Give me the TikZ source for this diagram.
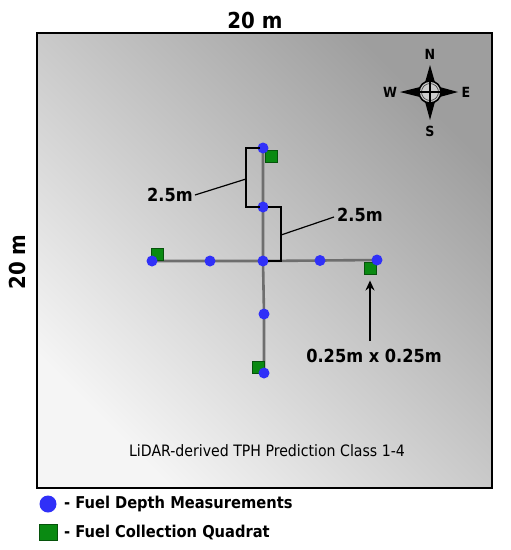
\documentclass[tikz,border=0pt]{standalone}
\usepackage{fontspec}
\setmainfont{DejaVu Sans}
\newfontfamily\condfont{DejaVu Sans Condensed}
\usetikzlibrary{arrows.meta,calc}
\definecolor{dotblue}{HTML}{3030F8}
\definecolor{quadgreen}{HTML}{0A8A12}
\definecolor{trailgray}{HTML}{6E6E6E}
\tikzset{
  dot/.style={circle, fill=dotblue, inner sep=0pt, minimum size=11pt},
  quad/.style={rectangle, fill=quadgreen, draw=quadgreen!60!black, line width=0.4pt, inner sep=0pt, minimum size=12.5pt},
  trail/.style={draw=trailgray, line width=2.6pt},
  brk/.style={draw=black, line width=1.4pt},
  lbl/.style={font=\condfont\bfseries\fontsize{18}{20}\selectfont, inner sep=0pt},
  dim/.style={font=\condfont\bfseries\fontsize{22}{24}\selectfont, inner sep=0pt},
  leg/.style={font=\condfont\bfseries\fontsize{16.3}{18}\selectfont, inner sep=0pt, anchor=west},
  cmp/.style={font=\condfont\bfseries\fontsize{14}{15}\selectfont, inner sep=0pt}
}
\begin{document}
\begin{tikzpicture}[x=1pt,y=-1pt]
\useasboundingbox (0,0) rectangle (511,550);
\fill[white] (0,0) rectangle (511,550);
% plot
\shade[top color=black!38, bottom color=black!4, shading angle=-45] (37,33) rectangle (492,488);
\draw[line width=2.6pt] (37,33) rectangle (492,488);
\node[dim] (top) at (255,20) {20 m};
\node[dim, rotate=90] (side) at (17,262) {20 m};
% positions
\coordinate (c) at (263,261);
\coordinate (n1) at (263,207);
\coordinate (n2) at (263,148);
\coordinate (w1) at (210,261);
\coordinate (w2) at (152,261);
\coordinate (e1) at (320,260.5);
\coordinate (e2) at (377,260);
\coordinate (s1) at (264,314);
\coordinate (s2) at (264,373);
% trails
\draw[trail] (n2) -- (n1) -- (c) -- (s1) -- (s2);
\draw[trail] (w2) -- (w1) -- (c) -- (e1) -- (e2);
% quadrats
\node[quad] (qn) at (271,156) {};
\node[quad] (qw) at (157,254) {};
\node[quad] (qe) at (370,268) {};
\node[quad] (qs) at (258,367) {};
% dots
\foreach \p in {c,n1,n2,w1,w2,e1,e2,s1,s2} \node[dot] (d\p) at (\p) {};
% brackets
\draw[brk] (260,148) -- (246,148) -- (246,207) -- (260,207);
\draw[brk] (268,207) -- (281,207) -- (281,261) -- (268,261);
\node[lbl] (b1) at (170,195) {2.5m};
\node[lbl] (b2) at (360,215) {2.5m};
\draw[line width=1.2pt] (b1.east) ++(2,0) -- (246,179);
\draw[line width=1.2pt] (b2.west) ++(-3,2) -- (281,235);
% arrow to quadrat
\node[lbl] (qs2) at (374,356) {0.25m x 0.25m};
\coordinate (tail) at (370,341);
\draw[line width=1.5pt, -{Stealth[length=10pt,width=9pt]}] (tail) -- ($(qe.south)+(0,6)$);
% caption
\node[font=\condfont\fontsize{15.7}{17}\selectfont, inner sep=0pt] (cap) at (267,451) {LiDAR-derived TPH Prediction Class 1-4};
% compass
\begin{scope}[shift={(430,92)}]
  \fill[black] (0,-27) -- (6,-6) -- (28,0) -- (6,6) -- (0,28) -- (-6,6) -- (-30,0) -- (-6,-6) -- cycle;
  \draw[black, line width=1.6pt, fill=black!20] (0,0) circle (11);
  \draw[black!80, line width=0.6pt] (0,0) circle (8.5);
  \draw[black, line width=2pt] (0,-13) -- (0,13) (-13,0) -- (13,0);
  \node[cmp] (cn) at (0,-38) {N};
  \node[cmp] (cs) at (0,39) {S};
  \node[cmp] (cw) at (-40,0) {W};
  \node[cmp] (ce) at (36,0) {E};
\end{scope}
% legend
\node[circle, fill=dotblue, inner sep=0pt, minimum size=17pt] (ld) at (48,504) {};
\node[rectangle, fill=quadgreen, draw=quadgreen!60!black, inner sep=0pt, minimum width=18pt, minimum height=16pt] (lq) at (48,532) {};
\node[leg] (lt1) at (64,504) {- Fuel Depth Measurements};
\node[leg] (lt2) at (64,532) {- Fuel Collection Quadrat};
\end{tikzpicture}
\end{document}
